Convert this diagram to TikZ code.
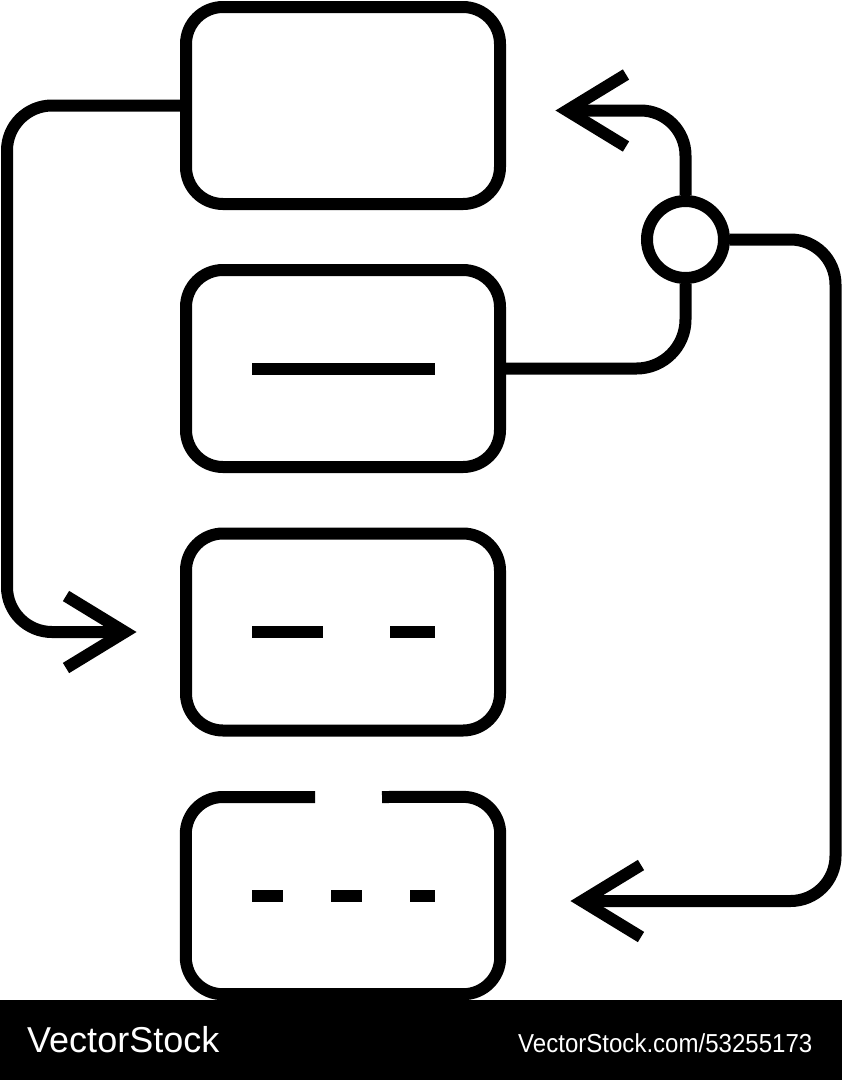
\documentclass[tikz,border=0pt]{standalone}
\usepackage{fontspec}
\newfontfamily\wmfont{Liberation Sans}
\newfontfamily\wmfontc[FakeStretch=0.925]{Liberation Sans}
\usetikzlibrary{calc}
\begin{document}
\begin{tikzpicture}[x=1pt,y=-1pt,
  stroke/.style={line width=12pt,black},
  boxnode/.style={rectangle,minimum width=314pt,minimum height=197pt,inner sep=0pt,rounded corners=37pt},
  bar/.style={line width=12pt,line cap=butt},
  chev/.style={line width=12pt,line join=miter,line cap=butt},
  wire/.style={line width=12pt,line join=round}]
\useasboundingbox (0,0) rectangle (842,1080);
% boxes
\node[boxnode,stroke,draw] (box1) at (343,105.5) {};
\node[boxnode,stroke,draw] (box2) at (343,368.5) {};
\node[boxnode,stroke,draw] (box3) at (343,632) {};
\node[boxnode] (box4) at (343,895.5) {};
\draw[stroke,rounded corners=37pt] (315,797) -| (box4.south west) -| (box4.north east) -- (382,797);
% inner marks
\draw[bar] (252,368.5) -- (435,368.5);
\draw[bar] (252,632) -- (323,632);
\draw[bar] (390,632) -- (435,632);
\draw[bar] (252,895.5) -- (283,895.5);
\draw[bar] (331,895.5) -- (362,895.5);
\draw[bar] (410,895.5) -- (435,895.5);
% junction circle
\node[circle,stroke,draw,minimum size=77pt,inner sep=0pt] (ci) at (685.5,239.5) {};
% arrow vertices
\coordinate (la) at (125,632);
\coordinate (ta) at (567,110.5);
\coordinate (ba) at (582,901);
% connectors
\draw[wire,rounded corners=45pt] (box1.west) -| (7,632) -- (la);
\draw[chev] ($(la)+(-59,-36)$) -- (la) -- ($(la)+(-59,36)$);
\draw[wire,rounded corners=49pt] (box2.east) -| (ci.south);
\draw[wire,rounded corners=45pt] (ci.north) |- (ta);
\draw[chev] ($(ta)+(59,-36)$) -- (ta) -- ($(ta)+(59,36)$);
\draw[wire,rounded corners=45pt] (ci.east) -| (835.5,901) -- (ba);
\draw[chev] ($(ba)+(59,-36)$) -- (ba) -- ($(ba)+(59,36)$);
% watermark bar
\fill[black] (0,1000) rectangle (842,1080);
\node[anchor=base west,inner sep=0pt,text=white,font=\wmfont\fontsize{36}{40}\selectfont] (wm1) at (27,1052) {VectorStock};
\node[anchor=base west,inner sep=0pt,text=white,font=\wmfontc\fontsize{26}{30}\selectfont] (wm2) at (518,1052) {VectorStock.com/53255173};
\end{tikzpicture}
\end{document}
